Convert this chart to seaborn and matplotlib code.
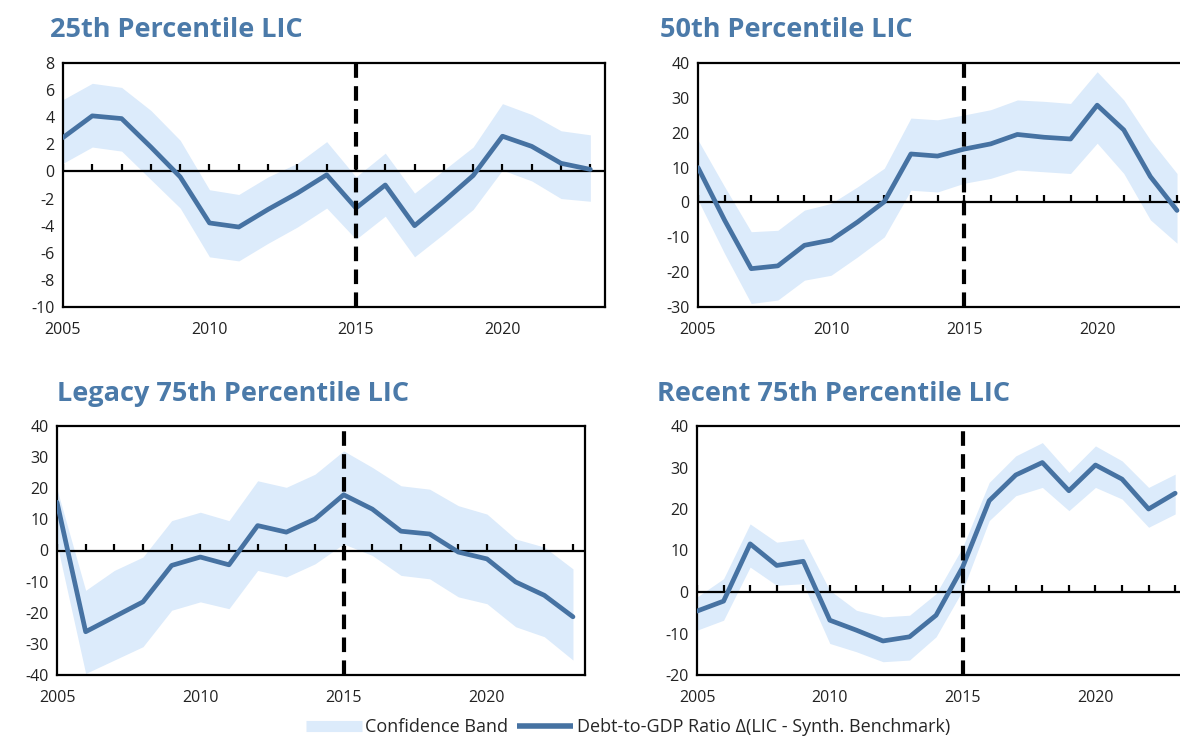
import matplotlib.pyplot as plt
import seaborn as sns
from matplotlib.lines import Line2D

sns.set_style("white")
plt.rcParams['font.family'] = ['Open Sans', 'DejaVu Sans']
plt.rcParams['axes.unicode_minus'] = False

years = list(range(2005, 2024))
xtick_years = [2005, 2010, 2015, 2020]
break_year = 2015

# 25th percentile LIC
p25_mid = [2.5, 4.1, 3.9, 1.8, -0.4, -3.8, -4.1, -2.8, -1.6, -0.25, -2.7, -1.0, -4.0, -2.2, -0.3, 2.6, 1.85, 0.6, 0.15]
p25_hi = [5.3, 6.5, 6.2, 4.5, 2.3, -1.35, -1.7, -0.4, 0.6, 2.2, -0.4, 1.35, -1.6, 0.1, 1.8, 5.0, 4.2, 3.0, 2.7]
p25_lo = [0.6, 1.8, 1.5, -0.6, -2.7, -6.3, -6.6, -5.3, -4.1, -2.7, -5.0, -3.3, -6.3, -4.6, -2.8, 0.1, -0.7, -2.0, -2.2]

# 50th percentile LIC
p50_mid = [10, -5.1, -19, -18.2, -12.3, -10.8, -5.6, 0.2, 13.9, 13.3, 15.3, 16.8, 19.5, 18.7, 18.2, 27.9, 20.8, 7.4, -2.3]
p50_hi = [17.9, 4.5, -8.4, -8.0, -2.2, -0.3, 4.5, 9.8, 24.2, 23.7, 25.1, 26.6, 29.4, 29.0, 28.4, 37.5, 29.4, 17.9, 8.3]
p50_lo = [0.7, -14.7, -29, -28, -22.3, -20.9, -15.6, -9.9, 3.5, 3.0, 5.5, 6.9, 9.3, 8.8, 8.3, 17.0, 8.3, -5.0, -11.7]

# Legacy 75th percentile LIC
leg_mid = [15.5, -26.1, -21.3, -16.5, -4.8, -2.1, -4.6, 8.0, 5.9, 10.1, 17.9, 13.3, 6.2, 5.3, -0.5, -2.7, -10.1, -14.4, -21.3]
leg_hi = [19.7, -12.8, -6.4, -2.1, 9.6, 12.3, 9.6, 22.4, 20.3, 24.5, 32.0, 26.7, 20.8, 19.7, 14.4, 11.7, 3.7, 1.1, -5.9]
leg_lo = [2.1, -39.5, -35.2, -30.9, -19.2, -16.5, -18.7, -6.4, -8.5, -4.3, 2.1, -1.6, -8.0, -9.1, -14.9, -17.1, -24.5, -27.7, -35.2]

# Recent 75th percentile LIC
rec_mid = [-4.6, -2.2, 11.6, 6.4, 7.4, -6.8, -9.2, -11.8, -10.8, -5.6, 6.0, 22.0, 28.2, 31.2, 24.4, 30.6, 27.2, 20.0, 23.8]
rec_hi = [-1.2, 3.2, 16.4, 12.0, 12.8, 0.4, -4.4, -6.0, -5.6, -0.4, 10.8, 26.4, 32.8, 36.0, 28.8, 35.2, 31.6, 25.2, 28.4]
rec_lo = [-9.2, -6.8, 6.0, 1.6, 2.0, -12.4, -14.4, -16.8, -16.4, -10.8, 0.4, 17.2, 23.2, 25.2, 19.6, 25.2, 22.4, 15.6, 18.8]

titles = ['25th Percentile LIC', '50th Percentile LIC',
          'Legacy 75th Percentile LIC', 'Recent 75th Percentile LIC']
yticks = [list(range(-10, 9, 2)), list(range(-30, 41, 10)),
          list(range(-40, 41, 10)), list(range(-20, 41, 10))]

line_color = '#4672a2'
band_color = '#dcebfb'
title_color = '#4b7aa9'

W, H = 1180, 738
fig = plt.figure(figsize=(W / 100, H / 100), dpi=100)

# pixel boxes: left, top, right, bottom, xmax
boxes = [(63, 63, 605, 307, 2023.5),
         (698, 63, 1185, 307, 2023.3),
         (57, 426, 585, 675, 2023.42),
         (697, 426, 1185, 675, 2023.37)]
title_pos = [(50, 30), (660, 30), (57, 394), (657, 394)]

series = [(p25_mid, p25_lo, p25_hi), (p50_mid, p50_lo, p50_hi),
          (leg_mid, leg_lo, leg_hi), (rec_mid, rec_lo, rec_hi)]

for i, (mid, lo, hi) in enumerate(series):
    l, t, r, b, xmax = boxes[i]
    ax = fig.add_axes([l / W, 1 - b / H, (r - l) / W, (b - t) / H])
    ax.fill_between(years, lo, hi, color=band_color, lw=0, zorder=1)
    ax.axhline(0, color='black', lw=1.6, zorder=2)
    ax.plot(years, [0] * len(years), ls='none', marker=2, ms=5, mew=1.6,
            color='black', zorder=2)
    sns.lineplot(x=years, y=mid, ax=ax, color=line_color, lw=3.4, zorder=3)
    ax.axvline(break_year, color='black', lw=3, dashes=(3.5, 2), zorder=4)
    ax.set_xlim(2005, xmax)
    ax.set_ylim(yticks[i][0], yticks[i][-1])
    ax.set_yticks(yticks[i])
    ax.set_xticks(xtick_years)
    ax.tick_params(axis='x', length=0, pad=11, labelsize=11.5, colors='#222222')
    ax.tick_params(axis='y', direction='in', length=4, width=1.3, pad=6,
                   labelsize=11.5, colors='#222222', color='black')
    for s in ax.spines.values():
        s.set_color('black')
        s.set_linewidth(1.6)
    tx, ty = title_pos[i]
    fig.text(tx / W, 1 - ty / H, titles[i], fontsize=19.5, fontweight='bold',
             color=title_color, va='center', ha='left')

handles = [Line2D([], [], color=band_color, lw=8, solid_capstyle='butt'),
           Line2D([], [], color=line_color, lw=4, solid_capstyle='butt')]
fig.legend(handles, ['Confidence Band', 'Debt-to-GDP Ratio \u0394(LIC - Synth. Benchmark)'],
           loc='center', bbox_to_anchor=(628 / W, 1 - 727 / H), ncol=2, frameon=False,
           fontsize=13, handlelength=3.1, columnspacing=0.5, handletextpad=0.2)

fig.savefig('out.png', dpi=100)
